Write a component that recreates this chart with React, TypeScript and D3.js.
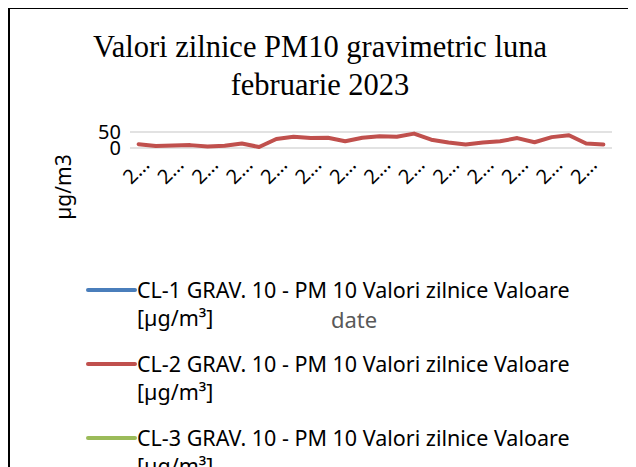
import React from "react";
import * as d3 from "d3";

// categories: zilele lunii februarie 2023
const dates = [
  "2023-02-01", "2023-02-02", "2023-02-03", "2023-02-04", "2023-02-05", "2023-02-06", "2023-02-07",
  "2023-02-08", "2023-02-09", "2023-02-10", "2023-02-11", "2023-02-12", "2023-02-13", "2023-02-14",
  "2023-02-15", "2023-02-16", "2023-02-17", "2023-02-18", "2023-02-19", "2023-02-20", "2023-02-21",
  "2023-02-22", "2023-02-23", "2023-02-24", "2023-02-25", "2023-02-26", "2023-02-27", "2023-02-28",
];

// CL-1 si CL-3 nu au valori vizibile
const cl1Values: (number | null)[] = [];
const cl2Values = [
  12, 6, 8, 9, 5, 7, 14, 3, 28, 35, 31, 32, 21, 32,
  37, 35, 45, 26, 17, 11, 17, 21, 31, 18, 34, 40, 14, 11,
];
const cl3Values: (number | null)[] = [];

const yTicks = [0, 50];

const seriesNames = [
  "CL-1 GRAV. 10 - PM 10 Valori zilnice Valoare",
  "CL-2 GRAV. 10 - PM 10 Valori zilnice Valoare",
  "CL-3 GRAV. 10 - PM 10 Valori zilnice Valoare",
];
const seriesColors = ["#4A7EBB", "#C0504D", "#9BBB59"];

const W = 628;
const H = 459;
const sans = "'Noto Sans', 'Open Sans', sans-serif";

export default function App() {
  const x = d3.scaleBand<string>().domain(dates).range([122, 604]);
  const y = d3.scaleLinear().domain([0, 50]).range([140, 124]);
  const cx = (d: string) => (x(d) ?? 0) + x.bandwidth() / 2;

  const line = d3
    .line<number | null>()
    .defined((v) => v != null)
    .x((_, i) => cx(dates[i]))
    .y((v) => y(v as number));

  const allSeries = [cl1Values, cl2Values, cl3Values];
  const [x0, x1] = x.range();

  return (
    <svg width={W} height={H} style={{ display: "block" }}>
      <rect x={0} y={0} width={W} height={H} fill="#fff" />
      <rect x={1} y={0} width={W + 20} height={H + 20} fill="none" stroke="#000" strokeWidth={2} />

      <g fontFamily="'Liberation Serif', 'Times New Roman', serif" fontSize={30.5} textAnchor="middle" fill="#000">
        <text x={312} y={49}>Valori zilnice PM10 gravimetric luna</text>
        <text x={312} y={87}>februarie 2023</text>
      </g>

      {yTicks.map((t) => (
        <g key={t}>
          <line x1={x0} x2={x1} y1={y(t)} y2={y(t)} stroke="#D9D9D9" strokeWidth={1.5} />
          <text x={113} y={y(t)} dy="0.35em" textAnchor="end" fontFamily={sans} fontSize={20} fill="#000">
            {t}
          </text>
        </g>
      ))}

      {allSeries.map((vals, i) =>
        vals.length ? (
          <path key={i} d={line(vals) ?? ""} fill="none" stroke={seriesColors[i]} strokeWidth={4} strokeLinejoin="round" strokeLinecap="round" />
        ) : null
      )}

      {dates.map((d, i) =>
        i % 2 === 0 ? (
          <text
            key={d}
            transform={`translate(${cx(d) + 12},${158}) rotate(-45)`}
            textAnchor="end"
            fontFamily={sans}
            fontSize={20}
            fill="#000"
          >
            {"2…"}
          </text>
        ) : null
      )}

      <text transform="translate(56,179) rotate(-90)" textAnchor="middle" dy="0.35em" fontFamily={sans} fontSize={21} fill="#000">
        µg/m3
      </text>

      <text x={346} y={320} textAnchor="middle" fontFamily={sans} fontSize={22} fill="#595959">
        date
      </text>

      {seriesNames.map((name, i) => (
        <g key={name} transform={`translate(0,${282 + i * 74})`}>
          <line x1={80} x2={127} y1={0} y2={0} stroke={seriesColors[i]} strokeWidth={4} strokeLinecap="round" />
          <text x={129} y={8} fontFamily={sans} fontSize={21.5} fill="#000">
            {name}
          </text>
          <text x={129} y={36} fontFamily={sans} fontSize={21.5} fill="#000">
            [µg/m³]
          </text>
        </g>
      ))}
    </svg>
  );
}
